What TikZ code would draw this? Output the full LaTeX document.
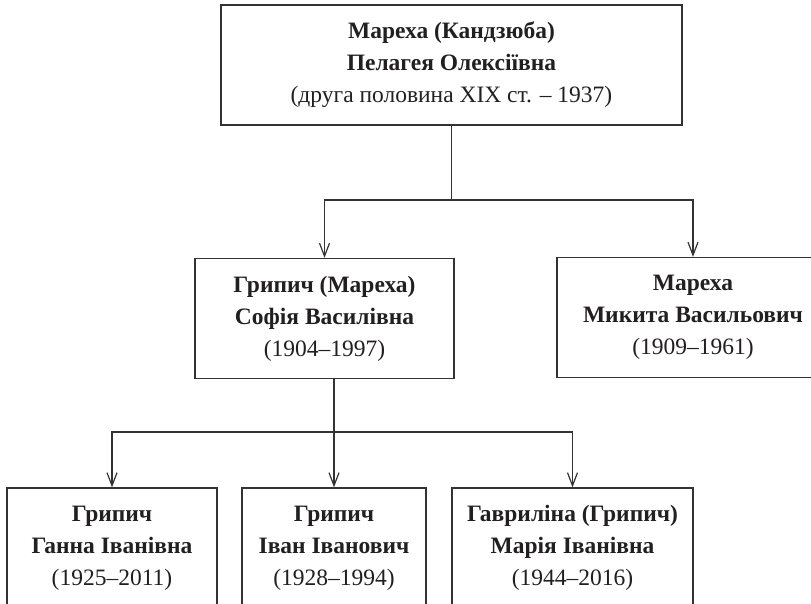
\documentclass[tikz,border=0pt]{standalone}
\usepackage{fontspec}
\setmainfont{Liberation Serif}
\usetikzlibrary{arrows.meta}
\definecolor{linegray}{HTML}{333333}
\definecolor{inkblack}{HTML}{231F20}
\tikzset{
  person/.style={draw=linegray, line width=1.3pt, minimum height=120pt, inner sep=0pt,
    align=center, text=inkblack, font=\fontsize{23.5}{32}\selectfont},
  link/.style={draw=linegray, line width=1.3pt},
  arrowlink/.style={link, -{Straight Barb[length=13pt,width=10pt,line width=1.2pt]}}
}
\begin{document}
\begin{tikzpicture}[x=1pt,y=-1pt]
			%%%%% FRAME %%%%%
			\useasboundingbox (0,0) rectangle (811,604);
			
			%%%%% PERSONS %%%%%
			\node[person, minimum width=461pt] (pelageya) at (451.5,65)
			{\textbf{Мареха (Кандзюба)}\\\textbf{Пелагея Олексіївна}\\(друга половина XIX ст. – 1937)};
			
			\node[person, minimum width=259pt] (sofiya) at (324.5,318.5)
			{\textbf{Грипич (Мареха)}\\\textbf{Софія Василівна}\\(1904–1997)};
			\node[person, minimum width=272pt] (mykyta) at (693,317.5)
			{\textbf{Мареха}\\\textbf{Микита Васильович}\\(1909–1961)};
			
			\node[person, minimum width=210pt] (hanna) at (112,548)
			{\textbf{Грипич}\\\textbf{Ганна Іванівна}\\(1925–2011)};
			\node[person, minimum width=184pt] (ivan) at (334,548)
			{\textbf{Грипич}\\\textbf{Іван Іванович}\\(1928–1994)};
			\node[person, minimum width=241pt] (mariya) at (572.5,548)
			{\textbf{Гавриліна (Грипич)}\\\textbf{Марія Іванівна}\\(1944–2016)};
			
			%%%%% LINKS %%%%%
			\coordinate (forkA) at (pelageya.south |- 0,200);
			\coordinate (forkB) at (ivan.north |- 0,432);
			
			\draw[link] (pelageya.south) -- (forkA);
			\draw[arrowlink] (forkA) -| (sofiya.north);
			\draw[arrowlink] (forkA) -| (mykyta.north);
			
			\draw[arrowlink] (sofiya.south -| ivan.north) -- (ivan.north);
			\draw[arrowlink] (forkB) -| (hanna.north);
			\draw[arrowlink] (forkB) -| (mariya.north);
\end{tikzpicture}
\end{document}
